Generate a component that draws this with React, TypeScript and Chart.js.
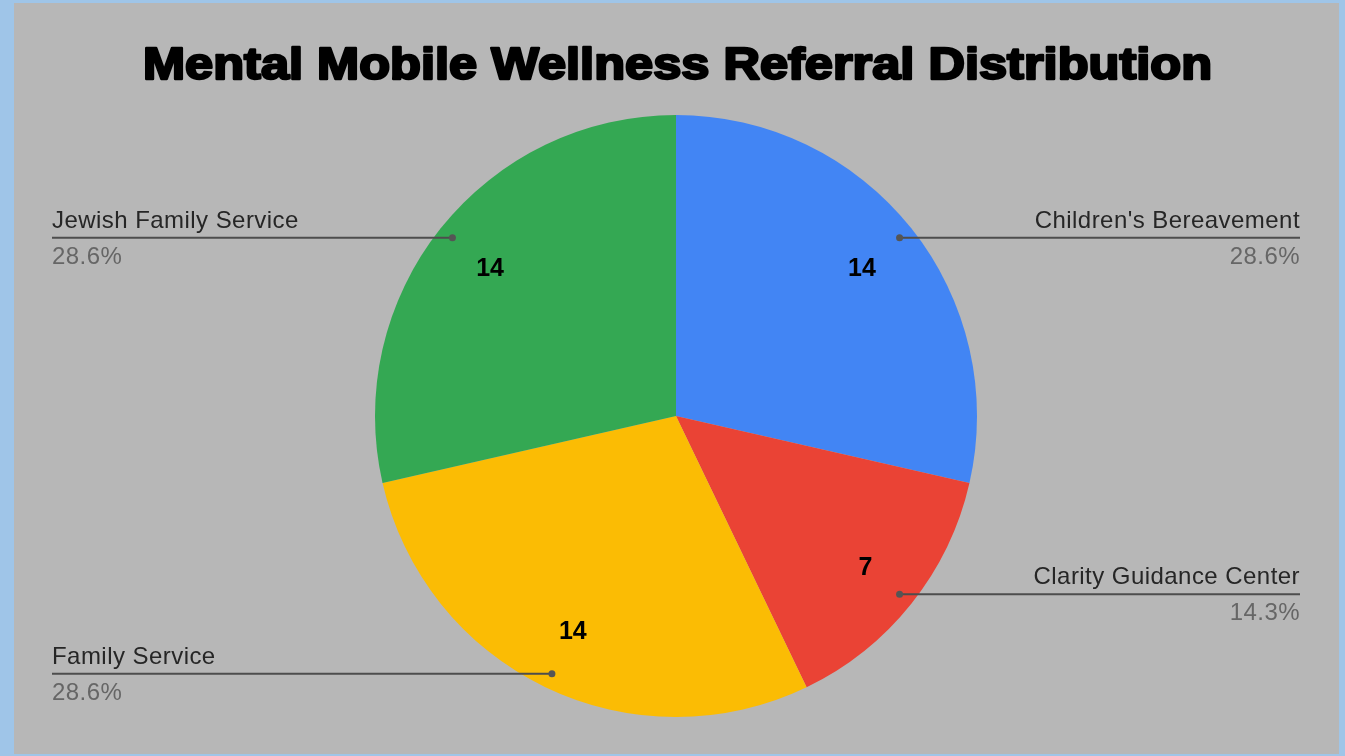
import React, { useEffect, useRef } from "react";
import { Chart, registerables } from "chart.js";

Chart.register(...registerables);

const TITLE = "Mental Mobile Wellness Referral Distribution";
const categories = [
  "Children's Bereavement",
  "Clarity Guidance Center",
  "Family Service",
  "Jewish Family Service",
];
const referrals = [14, 7, 14, 14];
const sliceColors = ["#4285f4", "#ea4335", "#fbbc04", "#34a853"];

const W = 1325;
const H = 751;

const labelPlugin = {
  id: "sheetLabels",
  afterDraw(chart: any) {
    const ctx = chart.ctx as CanvasRenderingContext2D;
    const meta = chart.getDatasetMeta(0);
    const data = chart.data.datasets[0].data as number[];
    const total = data.reduce((a, b) => a + b, 0);

    // Title
    ctx.save();
    ctx.font = "bold 44px 'Liberation Sans', Arial, sans-serif";
    ctx.textAlign = "left";
    ctx.textBaseline = "alphabetic";
    const tw = ctx.measureText(TITLE).width;
    const targetW = 1069;
    const sx = targetW / tw;
    const cx = 663.5;
    ctx.translate(cx - targetW / 2, 76);
    ctx.scale(sx, 1);
    ctx.fillStyle = "#000";
    ctx.strokeStyle = "#000";
    ctx.lineWidth = 2.4;
    ctx.lineJoin = "round";
    ctx.strokeText(TITLE, 0, 0);
    ctx.fillText(TITLE, 0, 0);
    ctx.restore();

    meta.data.forEach((arc: any, i: number) => {
      const { x, y, startAngle, endAngle, outerRadius } = arc.getProps(
        ["x", "y", "startAngle", "endAngle", "outerRadius"],
        true
      );
      const mid = (startAngle + endAngle) / 2;
      const cos = Math.cos(mid);
      const sin = Math.sin(mid);

      // value inside slice
      ctx.save();
      ctx.font = "bold 25px 'Liberation Sans', Arial, sans-serif";
      ctx.fillStyle = "#000";
      ctx.textAlign = "center";
      ctx.textBaseline = "middle";
      const vr = outerRadius * (data[i] / total < 0.2 ? 0.805 : 0.79);
      ctx.fillText(String(data[i]), x + cos * vr, y + sin * vr + 1.5);
      ctx.restore();

      // leader line
      const dr = outerRadius * 0.95;
      const dx = x + cos * dr;
      const dy = y + sin * dr;
      const right = cos >= 0;
      const edge = right ? 1286 : 38;
      ctx.save();
      ctx.strokeStyle = "#4d4d4d";
      ctx.lineWidth = 2;
      ctx.beginPath();
      ctx.moveTo(dx, dy);
      ctx.lineTo(edge, dy);
      ctx.stroke();
      ctx.fillStyle = "#555";
      ctx.beginPath();
      ctx.arc(dx, dy, 3.5, 0, Math.PI * 2);
      ctx.fill();

      ctx.font = "24px 'Liberation Sans', Arial, sans-serif";
      (ctx as any).letterSpacing = "0.45px";
      ctx.textAlign = right ? "right" : "left";
      ctx.textBaseline = "alphabetic";
      ctx.fillStyle = "#262626";
      ctx.fillText(categories[i], edge, dy - 10);
      ctx.fillStyle = "#666";
      const pct = ((data[i] / total) * 100).toFixed(1) + "%";
      ctx.fillText(pct, edge, dy + 26);
      ctx.restore();
    });
  },
};

export default function App() {
  const ref = useRef<HTMLCanvasElement>(null);

  useEffect(() => {
    document.body.style.margin = "0";
    if (!ref.current) return;
    const chart = new Chart(ref.current, {
      type: "pie",
      data: {
        labels: categories,
        datasets: [
          {
            data: referrals,
            backgroundColor: sliceColors,
            borderWidth: 0,
          },
        ],
      },
      options: {
        responsive: false,
        animation: false,
        layout: { padding: { top: 112, bottom: 37, left: 361, right: 362 } },
        plugins: {
          legend: { display: false },
          title: { display: false },
          tooltip: { enabled: false },
        },
      },
      plugins: [labelPlugin],
    });
    return () => chart.destroy();
  }, []);

  return (
    <div
      style={{
        position: "absolute",
        left: 0,
        top: 0,
        width: 1345,
        height: 756,
        background: "#9fc5e8",
      }}
    >
      <div
        style={{
          position: "absolute",
          left: 14,
          top: 3,
          width: W,
          height: H,
          background: "#b7b7b7",
        }}
      >
        <canvas ref={ref} width={W} height={H} style={{ display: "block" }} />
      </div>
    </div>
  );
}
